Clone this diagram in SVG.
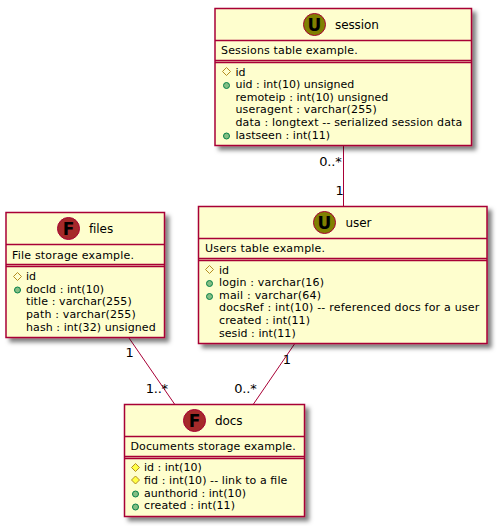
<svg xmlns="http://www.w3.org/2000/svg" width="497" height="526" viewBox="0 0 497 526">
<style>
text{font-family:"DejaVu Sans",sans-serif;fill:#000}
.t{font-size:12px;letter-spacing:-0.1px}
.m{font-size:11px}
.l{font-size:13px;letter-spacing:-0.2px}
.b{fill:#FEFECE;stroke:#A80036;stroke-width:1.5;filter:url(#s)}
.d{stroke:#A80036;stroke-width:1.5;fill:none}
.c{stroke:#A80036;stroke-width:1;fill:none}
.u{fill:#808000;stroke:#A80036;stroke-width:1}
.f{fill:#A52A2A;stroke:#A80036;stroke-width:1}
.g{font-size:17px;font-weight:bold;text-anchor:middle}
.pk{fill:none;stroke:#B38D22;stroke-width:1}
.pf{fill:#FFFF44;stroke:#B38D22;stroke-width:1}
.pu{fill:#84BE84;stroke:#038048;stroke-width:1}
</style>
<defs>
<filter id="s" x="-10%" y="-10%" width="125%" height="125%"><feDropShadow dx="4" dy="4" stdDeviation="2" flood-color="#000" flood-opacity="0.5"/></filter>
<path id="dia" d="M0-4L4 0L0 4L-4 0Z"/>
</defs>
<g id="connectors">
<path class="c" d="M343.5 146V206"/>
<path class="c" d="M129 338L174.5 404"/>
<path class="c" d="M294.5 344L253.5 404"/>
<text class="l" x="319.3" y="165.5">0..*</text>
<text class="l" x="335.5" y="195">1</text>
<text class="l" x="125.5" y="356.5">1</text>
<text class="l" x="145.7" y="393">1..*</text>
<text class="l" x="282.7" y="364">1</text>
<text class="l" x="234.3" y="393">0..*</text>
</g>
<g id="session">
<rect class="b" x="215" y="8.5" width="256.5" height="137"/>
<ellipse class="u" cx="314.5" cy="24.5" rx="11" ry="11"/>
<text class="g" x="314.5" y="30.5">U</text>
<text class="t" x="335" y="28.5">session</text>
<path class="d" d="M215 40.5H471.5M215 60.5H471.5M215 62.5H471.5"/>
<text class="m" x="221" y="54" textLength="136.7">Sessions table example.</text>
<use href="#dia" class="pk" x="226.5" y="71.5"/>
<circle class="pu" cx="226.5" cy="85.5" r="3"/>
<circle class="pu" cx="226.5" cy="136" r="3"/>
<text class="m" x="235.5" y="75.5">id</text>
<text class="m" x="235.5" y="88" textLength="118.8">uid : int(10) unsigned</text>
<text class="m" x="235.5" y="101" textLength="152.8">remoteip : int(10) unsigned</text>
<text class="m" x="235.5" y="113" textLength="141.2">useragent : varchar(255)</text>
<text class="m" x="235.5" y="126" textLength="226.8">data : longtext -- serialized session data</text>
<text class="m" x="235.5" y="139" textLength="94.5">lastseen : int(11)</text>
</g>
<g id="files">
<rect class="b" x="6" y="212.5" width="158.5" height="125"/>
<ellipse class="f" cx="68.5" cy="228.5" rx="11" ry="11"/>
<text class="g" x="68.5" y="234.5">F</text>
<text class="t" x="89" y="233">files</text>
<path class="d" d="M6 244.5H164.5M6 264.5H164.5M6 266.5H164.5"/>
<text class="m" x="12" y="259" textLength="122">File storage example.</text>
<use href="#dia" class="pk" x="17.5" y="276.5"/>
<circle class="pu" cx="17.5" cy="290" r="3"/>
<text class="m" x="26" y="280">id</text>
<text class="m" x="26" y="292.5" textLength="78">docId : int(10)</text>
<text class="m" x="26" y="305" textLength="105.7">title : varchar(255)</text>
<text class="m" x="26" y="318" textLength="109.7">path : varchar(255)</text>
<text class="m" x="26" y="331" textLength="129.7">hash : int(32) unsigned</text>
</g>
<g id="user">
<rect class="b" x="198.5" y="206.5" width="288.5" height="137"/>
<ellipse class="u" cx="324.5" cy="222.5" rx="11" ry="11"/>
<text class="g" x="324.5" y="228.5">U</text>
<text class="t" x="345.5" y="226.5">user</text>
<path class="d" d="M198.5 238.5H487M198.5 258.5H487M198.5 260.5H487"/>
<text class="m" x="205" y="252" textLength="120">Users table example.</text>
<use href="#dia" class="pk" x="209.5" y="269.5"/>
<circle class="pu" cx="209.5" cy="283.5" r="3"/>
<circle class="pu" cx="209.5" cy="296.5" r="3"/>
<text class="m" x="219" y="273.5">id</text>
<text class="m" x="219" y="286" textLength="105">login : varchar(16)</text>
<text class="m" x="219" y="299" textLength="102">mail : varchar(64)</text>
<text class="m" x="219" y="311" textLength="260.3">docsRef : int(10) -- referenced docs for a user</text>
<text class="m" x="219" y="324" textLength="91">created : int(11)</text>
<text class="m" x="219" y="337" textLength="76.7">sesid : int(11)</text>
</g>
<g id="docs">
<rect class="b" x="124.5" y="404.5" width="180" height="112"/>
<ellipse class="f" cx="194.5" cy="420.5" rx="11" ry="11"/>
<text class="g" x="194.5" y="426.5">F</text>
<text class="t" x="215" y="424.5">docs</text>
<path class="d" d="M124.5 436.5H304.5M124.5 456.5H304.5M124.5 458.5H304.5"/>
<text class="m" x="130.5" y="450" textLength="165.2">Documents storage example.</text>
<use href="#dia" class="pf" x="135.5" y="467.5"/>
<use href="#dia" class="pf" x="135.5" y="480"/>
<circle class="pu" cx="135.5" cy="494" r="3"/>
<circle class="pu" cx="135.5" cy="507" r="3"/>
<text class="m" x="144" y="471" textLength="57.7">id : int(10)</text>
<text class="m" x="144" y="484" textLength="143.3">fid : int(10) -- link to a file</text>
<text class="m" x="144" y="497" textLength="102">aunthorid : int(10)</text>
<text class="m" x="144" y="509" textLength="91">created : int(11)</text>
</g>
</svg>
